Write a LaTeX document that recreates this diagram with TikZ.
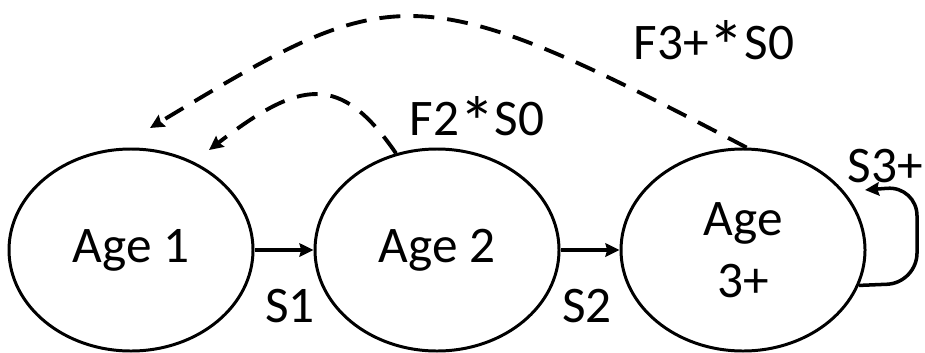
\documentclass[tikz,border=0pt]{standalone}
\usepackage{fontspec}
\setmainfont{Carlito}
\usetikzlibrary{positioning,shapes.geometric,arrows.meta}

\newcommand{\mulast}{\raisebox{-0.5ex}[0pt][0pt]{\scalebox{1.4}{*}}}

\begin{document}
\begin{tikzpicture}[-,>={Stealth[length=4pt,width=3.8pt,inset=0.5pt]},node distance=3.06cm,line width=0.85pt,
  age node/.style={ellipse,draw,minimum width=2.44cm,minimum height=2.02cm,inner sep=0pt,align=center,font=\fontsize{14.6}{17.6}\selectfont},
  rate/.style={font=\fontsize{14.6}{17.6}\selectfont},
  fec/.style={dash pattern=on 2.1mm off 1.3mm,line width=1.1pt}]

            \useasboundingbox (0,0) rectangle (9.25,3.52);

            \node[age node] (age1) at (1.31,1.02) {Age 1};
            \node[age node] (age2) [right of = age1] {Age 2};
            \node[age node] (age3) [right of = age2] {Age\\3+};

            \coordinate (tip2) at (2.09,2.02);
            \coordinate (tip3) at (1.50,2.24);
            \coordinate (tips) at (8.65,1.62);

            \draw[->,line width=1pt] (age1) to node[rate,below=2.6mm,pos=0.6] (s1) {S1} (age2);
            \draw[->,line width=1pt] (age2) to node[rate,below=2.6mm,pos=0.45] (s2) {S2} (age3);

            \draw[->,fec] (age2.113) .. controls (3.40,2.80) and (3.00,2.72) .. (tip2);
            \draw[->,fec] (age3.88) .. controls (4.11,3.81) and (3.93,3.70) .. (tip3);
            \draw[->,line width=1pt,rounded corners=3mm] (age3.-17) -- (9.17,0.69) -- (9.17,1.66) -- (tips);

            \node[rate] (f2) at (4.77,2.33) {F2\mulast S0};
            \node[rate] (f3) at (7.14,3.09) {F3+\mulast S0};
            \node[rate] (s3) at (8.85,1.86) {S3+};

            ;
        \end{tikzpicture}
\end{document}
